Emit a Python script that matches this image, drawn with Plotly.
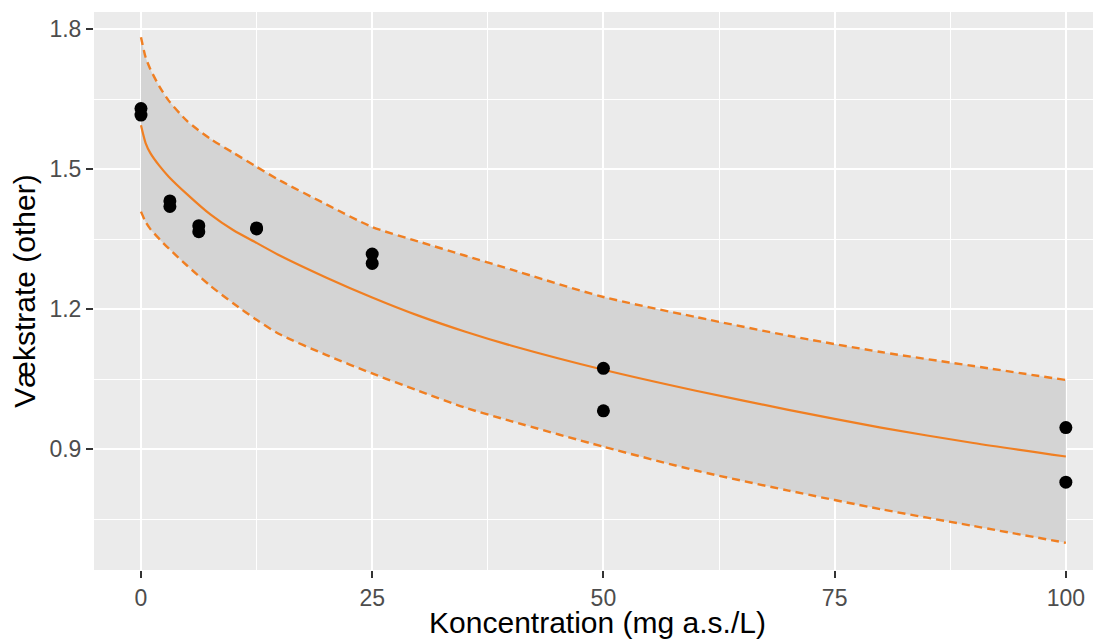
import plotly.graph_objects as go

# Observed data points
obs_x = [0, 0, 3.125, 3.125, 6.25, 6.25, 12.5, 12.5, 25, 25, 50, 50, 100, 100]
obs_y = [1.630, 1.616, 1.432, 1.420, 1.379, 1.366, 1.374, 1.372, 1.318, 1.298, 1.073, 0.982, 0.946, 0.829]

# Fitted curve and confidence band
fit_x = [0, 0.5, 1, 2, 3, 5, 7.5, 10, 12.5, 15, 20, 25, 30, 35, 40, 50, 60, 70, 80, 90, 100]
fit_y = [1.594, 1.556, 1.535, 1.507, 1.484, 1.446, 1.403, 1.369, 1.342, 1.315, 1.268, 1.225,
         1.186, 1.152, 1.122, 1.070, 1.025, 0.984, 0.946, 0.913, 0.884]
upper_y = [1.783, 1.740, 1.715, 1.677, 1.647, 1.603, 1.565, 1.535, 1.505, 1.476, 1.425, 1.376,
           1.345, 1.315, 1.285, 1.226, 1.183, 1.143, 1.108, 1.078, 1.048]
lower_y = [1.409, 1.387, 1.372, 1.350, 1.330, 1.293, 1.250, 1.212, 1.177, 1.146, 1.102, 1.062,
           1.025, 0.989, 0.960, 0.905, 0.854, 0.811, 0.771, 0.735, 0.699]

x_ticks = [0, 25, 50, 75, 100]
y_ticks = [0.9, 1.2, 1.5, 1.8]
y_tick_labels = ["0.9", "1.2", "1.5", "1.8"]

orange = "#F07F22"

fig = go.Figure()

# Ribbon
fig.add_trace(go.Scatter(x=fit_x, y=lower_y, mode="lines",
                         line=dict(width=0, shape="spline", smoothing=0.7),
                         hoverinfo="skip", showlegend=False))
fig.add_trace(go.Scatter(x=fit_x, y=upper_y, mode="lines",
                         line=dict(width=0, shape="spline", smoothing=0.7),
                         fill="tonexty", fillcolor="#D4D4D4", hoverinfo="skip", showlegend=False))

# Dashed bounds
for yy in (upper_y, lower_y):
    fig.add_trace(go.Scatter(x=fit_x, y=yy, mode="lines",
                             line=dict(color=orange, width=2.4, dash="8px,5px",
                                       shape="spline", smoothing=0.7),
                             showlegend=False))

# Fitted curve
fig.add_trace(go.Scatter(x=fit_x, y=fit_y, mode="lines",
                         line=dict(color=orange, width=2.2, shape="spline", smoothing=0.7),
                         showlegend=False))

# Points
fig.add_trace(go.Scatter(x=obs_x, y=obs_y, mode="markers",
                         marker=dict(color="black", size=13),
                         showlegend=False))

# The page body adds an 8px offset; compensate so the panel lands where the reference has it.
fig.update_layout(
    width=1093, height=631,
    margin=dict(l=86, r=0, t=4, b=69),
    paper_bgcolor="white",
    plot_bgcolor="#EBEBEB",
    font=dict(family="Liberation Sans, Arial, sans-serif"),
)

fig.update_xaxes(
    range=[-5.08, 103.8],
    tickvals=x_ticks,
    ticks="outside", ticklen=7, tickwidth=1.5, tickcolor="#333333",
    tickfont=dict(size=23, color="#4D4D4D"),
    showgrid=True, gridcolor="white", gridwidth=2,
    minor=dict(dtick=12.5, tick0=12.5, showgrid=True, gridcolor="white", gridwidth=1, ticks=""),
    zeroline=False, showline=False, automargin=False,
    title=dict(text="Koncentration (mg a.s./L)", font=dict(size=30, color="black"), standoff=4),
)

fig.update_yaxes(
    range=[0.6407, 1.837],
    tickvals=y_ticks, ticktext=y_tick_labels,
    ticks="outside", ticklen=7, tickwidth=1.5, tickcolor="#333333",
    tickfont=dict(size=23, color="#4D4D4D"),
    showgrid=True, gridcolor="white", gridwidth=2,
    minor=dict(tickvals=[0.75, 1.05, 1.35, 1.65], showgrid=True, gridcolor="white", gridwidth=1, ticks=""),
    zeroline=False, showline=False, automargin=False,
    title=dict(text="Vækstrate (other)", font=dict(size=30, color="black"), standoff=8),
)

fig.write_html("out.html")
